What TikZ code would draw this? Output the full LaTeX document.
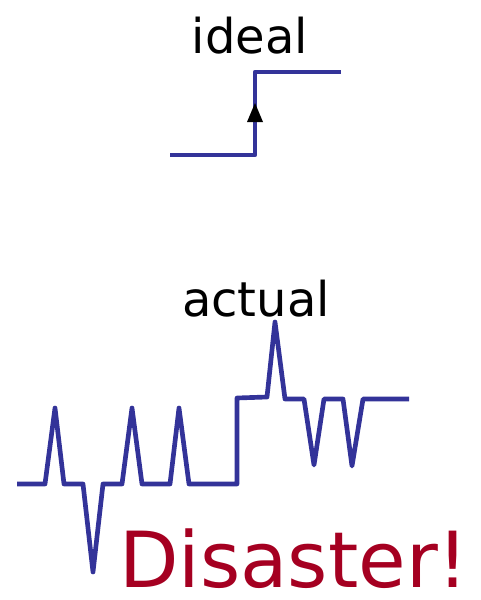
\documentclass[tikz,border=0pt]{standalone}
\usepackage{fontspec}
\setmainfont{DejaVu Sans}
\definecolor{wave}{HTML}{333399}
\definecolor{disaster}{HTML}{A50021}
\begin{document}
\begin{tikzpicture}[x=0.75pt,y=-0.75pt,
  signal/.style={draw=wave,line width=3.5pt,line join=round},
  label/.style={anchor=base,inner sep=0pt,text depth=0pt,font=\fontsize{36}{40}\selectfont}]
\useasboundingbox (0,0) rectangle (480,600);
\node[label] (ideal) at (250,53) {ideal};
\draw[signal] (170,155) -- (255,155) -- (255,72) -- (341,72);
\fill (255,103) -- (263,122) -- (247,122) -- cycle;
\node[label] (actual) at (256,316) {actual};
\draw[signal] (17,484) -- (45,484) -- (55,408) -- (64,484) -- (83,484)
  -- (93,572) -- (103,484) -- (122,484) -- (132,408) -- (142,484)
  -- (170,484) -- (179,408) -- (189,484) -- (237,484) -- (237,398)
  -- (267,397) -- (275,322) -- (285,399) -- (304,399) -- (314,465)
  -- (324,399) -- (343,399) -- (352,466) -- (363,399) -- (409,399);
\node[anchor=base,inner sep=0pt,text depth=0pt,text=disaster,font=\fontsize{58}{62}\selectfont] (dis) at (294,587) {Disaster!};
\end{tikzpicture}
\end{document}
